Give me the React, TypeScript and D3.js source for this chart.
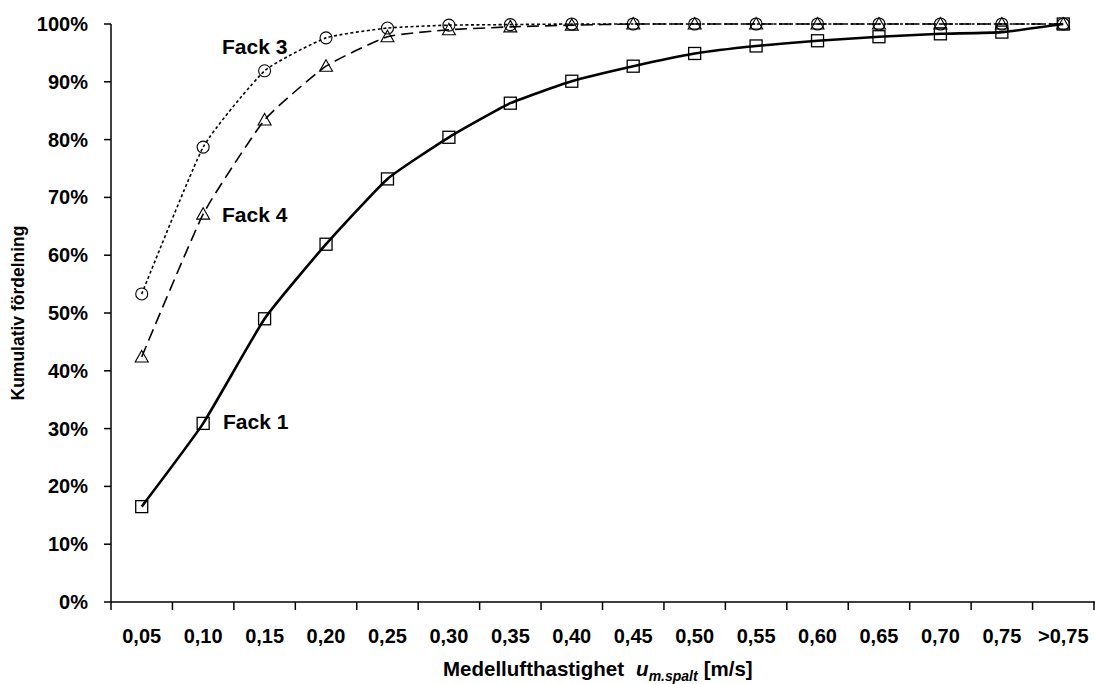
import React from "react";
import * as d3 from "d3";

const categories = ["0,05","0,10","0,15","0,20","0,25","0,30","0,35","0,40","0,45","0,50","0,55","0,60","0,65","0,70","0,75",">0,75"];
const fack1 = [16.5, 30.9, 49.0, 61.9, 73.2, 80.4, 86.3, 90.1, 92.7, 94.9, 96.2, 97.1, 97.8, 98.3, 98.6, 100];
const fack3 = [53.3, 78.7, 91.9, 97.6, 99.3, 99.8, 99.9, 100, 100, 100, 100, 100, 100, 100, 100, 100];
const fack4 = [42.4, 67.1, 83.4, 92.7, 97.8, 99.0, 99.5, 99.8, 100, 100, 100, 100, 100, 100, 100, 100];
const yTicks = [0, 10, 20, 30, 40, 50, 60, 70, 80, 90, 100];

const W = 1095, H = 684;
const left = 111, right = 1094, top = 24, bottom = 602;
const FONT = "'Liberation Sans', Arial, sans-serif";

export default function App() {
  const x = d3.scaleBand<string>().domain(categories).range([left, right]).paddingInner(0).paddingOuter(0);
  const y = d3.scaleLinear().domain([0, 100]).range([bottom, top]);
  const cx = (i: number) => (x(categories[i]) as number) + x.bandwidth() / 2;
  const line = d3.line<number>().x((_, i) => cx(i)).y(d => y(d)).curve(d3.curveCardinal.tension(0.55));

  const boundaries = d3.range(categories.length + 1).map(i => left + i * x.bandwidth());

  return (
    <svg width={W} height={H} style={{ position: "absolute", left: 0, top: 0, background: "#fff" }} fontFamily={FONT}>
      <rect x={0} y={0} width={W} height={H} fill="#fff" />
      {/* axes */}
      <line x1={left} x2={left} y1={top} y2={bottom} stroke="#000" strokeWidth={1.5} />
      <line x1={left} x2={W} y1={bottom} y2={bottom} stroke="#000" strokeWidth={1.5} />
      {yTicks.map(t => (
        <g key={t}>
          <line x1={left - 7} x2={left} y1={y(t)} y2={y(t)} stroke="#000" strokeWidth={1.5} />
          <text x={88} y={y(t) + 7} textAnchor="end" fontSize={20} fontWeight="bold">{t}%</text>
        </g>
      ))}
      {boundaries.map((b, i) => (
        <line key={i} x1={b} x2={b} y1={bottom} y2={bottom + 8} stroke="#000" strokeWidth={1.5} />
      ))}
      {categories.map((c, i) => (
        <text key={c} x={cx(i)} y={643} textAnchor="middle" fontSize={20} fontWeight="bold">{c}</text>
      ))}
      {/* axis titles */}
      <text x={443} y={676} fontSize={20.5} fontWeight="bold">
        Medellufthastighet
        <tspan fontStyle="italic" dx={12}>u</tspan>
        <tspan fontStyle="italic" fontSize={14} dy={5}>m.spalt</tspan>
        <tspan dy={-5} dx={6}>[m/s]</tspan>
      </text>
      <text transform={`translate(24,${(top + bottom) / 2}) rotate(-90)`} textAnchor="middle" fontSize={17.5} fontWeight="bold">
        Kumulativ fördelning
      </text>

      {/* series lines */}
      <path d={line(fack3) || ""} fill="none" stroke="#000" strokeWidth={1.6} strokeDasharray="3,2.5" />
      <path d={line(fack4) || ""} fill="none" stroke="#000" strokeWidth={1.6} strokeDasharray="12,6" />
      <path d={line(fack1) || ""} fill="none" stroke="#000" strokeWidth={2.6} />

      {/* markers */}
      {fack3.map((v, i) => (
        <circle key={"c" + i} cx={cx(i)} cy={y(v)} r={6} fill="none" stroke="#000" strokeWidth={1.1} />
      ))}
      {fack4.map((v, i) => {
        const px = cx(i), py = y(v);
        return <path key={"t" + i} d={`M${px},${py - 6.5}L${px + 6.5},${py + 5}L${px - 6.5},${py + 5}Z`} fill="none" stroke="#000" strokeWidth={1.1} />;
      })}
      {fack1.map((v, i) => (
        <rect key={"s" + i} x={cx(i) - 6} y={y(v) - 6} width={12} height={12} fill="none" stroke="#000" strokeWidth={1.3} />
      ))}

      {/* labels */}
      <text x={222} y={54} fontSize={21} fontWeight="bold">Fack 3</text>
      <text x={222} y={222} fontSize={21} fontWeight="bold">Fack 4</text>
      <text x={223} y={429} fontSize={21} fontWeight="bold">Fack 1</text>
    </svg>
  );
}
